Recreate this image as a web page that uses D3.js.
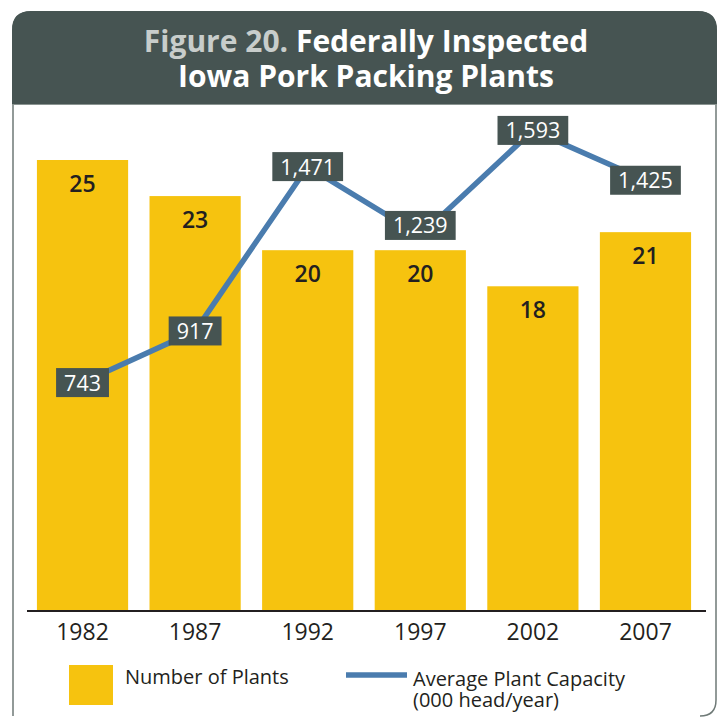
<!DOCTYPE html>
<html><head><meta charset="utf-8">
<script src="https://cdn.jsdelivr.net/npm/d3@7"></script>
<style>
html,body{margin:0;padding:0;background:#fff;}
svg{display:block;font-family:"Open Sans",sans-serif;}
</style></head>
<body>
<svg id="c" width="720" height="718"></svg>
<script>
const years = ["1982","1987","1992","1997","2002","2007"];
const plants = [25,23,20,20,18,21];
const capacity = [743,917,1471,1239,1593,1425];
const capacityLabels = ["743","917","1,471","1,239","1,593","1,425"];
const titlePrefix = "Figure 20.";
const titleLine1 = " Federally Inspected";
const titleLine2 = "Iowa Pork Packing Plants";
const legendLabels = ["Number of Plants","Average Plant Capacity","(000 head/year)"];

const svg = d3.select("#c");
const yellow = "#F6C30F", dark = "#465452", blue = "#4A7CAE";

// panel
svg.append("path")
  .attr("d","M13,716 L13,30 Q13,12 31,12 L698,12 Q716,12 716,30 L716,700 Q716,716 700,716")
  .attr("fill","#fff").attr("stroke","#6f7a77").attr("stroke-width",1.5);
svg.append("path")
  .attr("d","M12,104 L12,30 Q12,11 31,11 L698,11 Q717,11 717,30 L717,104 Z")
  .attr("fill",dark);
svg.append("line").attr("x1",12).attr("x2",717).attr("y1",104.5).attr("y2",104.5)
  .attr("stroke","#8a9491").attr("stroke-width",1);

const t1 = svg.append("text").attr("x",366).attr("y",52).attr("text-anchor","middle")
  .attr("font-size",30).attr("font-weight",700).attr("fill","#fff");
t1.append("tspan").attr("fill","#c8cdcb").text(titlePrefix);
t1.append("tspan").text(titleLine1);
svg.append("text").attr("x",366).attr("y",87).attr("text-anchor","middle")
  .attr("font-size",30).attr("font-weight",700).attr("fill","#fff").text(titleLine2);

const x = d3.scaleBand().domain(years).range([26,702]).paddingInner(0.19).paddingOuter(0.097);
const y = d3.scaleLinear().domain([0,25]).range([611,160]);
const y2 = d3.scaleLinear().domain([0,1800]).range([603,69]);

svg.selectAll("rect.bar").data(years).join("rect").attr("class","bar")
  .attr("x",d=>x(d)).attr("width",x.bandwidth())
  .attr("y",(d,i)=>y(plants[i])).attr("height",(d,i)=>y(0)-y(plants[i]))
  .attr("fill",yellow);

svg.selectAll("text.bl").data(years).join("text").attr("class","bl")
  .attr("x",d=>x(d)+x.bandwidth()/2).attr("y",(d,i)=>y(plants[i])+32)
  .attr("text-anchor","middle").attr("font-size",23).attr("font-weight",600).attr("fill","#231f20")
  .text((d,i)=>plants[i]);

// x axis
const xa = svg.append("g").attr("transform","translate(0,611)")
  .call(d3.axisBottom(x).tickSize(0).tickPadding(13));
xa.select(".domain").attr("d","M27,0H706").attr("stroke","#231f20").attr("stroke-width",2);
xa.selectAll(".tick text").attr("font-size",23).attr("fill","#231f20")
  .attr("font-family","Open Sans, sans-serif");

// line
const line = d3.line().x((d,i)=>x(years[i])+x.bandwidth()/2).y(d=>y2(d));
svg.append("path").datum(capacity).attr("d",line).attr("fill","none")
  .attr("stroke",blue).attr("stroke-width",5.5).attr("stroke-linejoin","miter");

// label boxes; a local minimum label is nudged upward to clear the bar below
const lg = svg.selectAll("g.cl").data(capacity).join("g").attr("class","cl")
  .attr("transform",(d,i)=>{
    const prev = capacity[i-1], next = capacity[i+1];
    const nudge = (prev!==undefined && next!==undefined && d<prev && d<next) ? -10 : 0;
    return `translate(${x(years[i])+x.bandwidth()/2},${y2(d)+nudge})`;
  });
lg.each(function(d,i){
  const g = d3.select(this);
  const t = g.append("text").attr("text-anchor","middle").attr("y",8)
    .attr("font-size",21.5).attr("fill","#fff").text(capacityLabels[i]);
  const w = t.node().getComputedTextLength()+16;
  g.insert("rect","text").attr("x",-w/2).attr("y",-14.5).attr("width",w).attr("height",29).attr("fill",dark);
});

// legend
svg.append("rect").attr("x",69).attr("y",665).attr("width",44).attr("height",40).attr("fill",yellow);
svg.append("text").attr("x",125).attr("y",684).attr("font-size",20).attr("fill","#231f20").text(legendLabels[0]);
svg.append("line").attr("x1",346).attr("x2",407).attr("y1",675).attr("y2",675).attr("stroke",blue).attr("stroke-width",5.5);
const lt = svg.append("text").attr("x",413).attr("y",686).attr("font-size",20).attr("fill","#231f20");
lt.append("tspan").attr("x",413).text(legendLabels[1]);
lt.append("tspan").attr("x",413).attr("dy",21).text(legendLabels[2]);
</script>
</body></html>
